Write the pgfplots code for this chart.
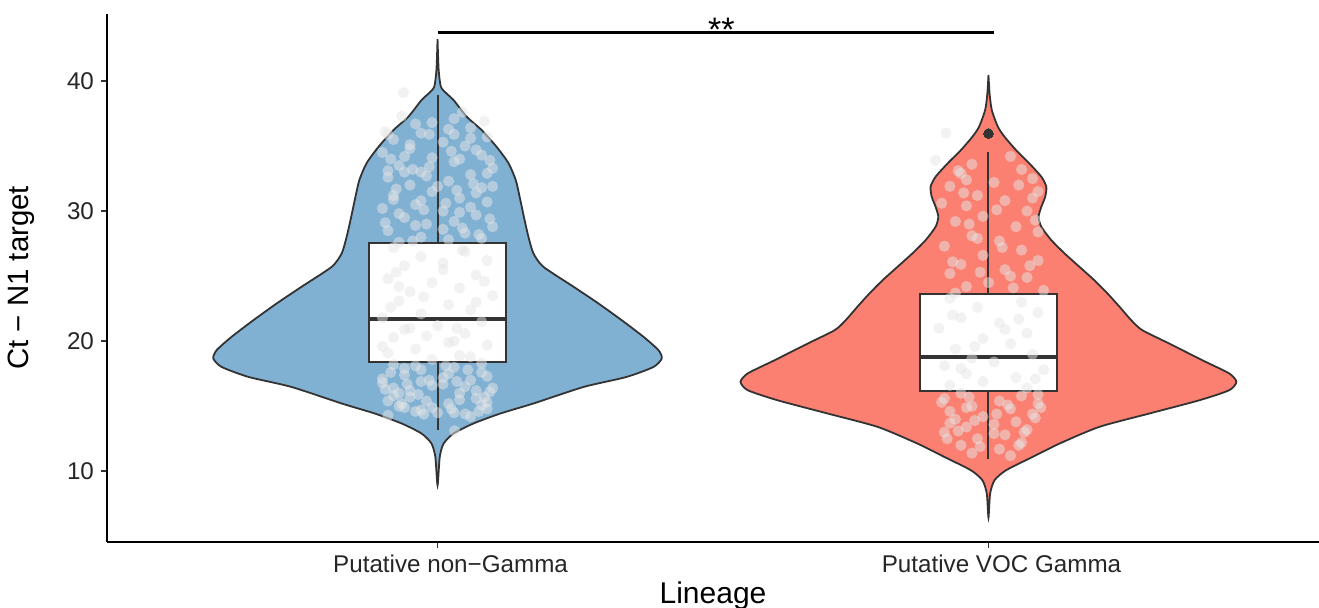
\documentclass[border=0pt]{standalone}
\usepackage{fontspec}
\setmainfont{Liberation Sans}
\usepackage{pgfplots}
\pgfplotsset{compat=1.18}
\definecolor{vblue}{HTML}{80B1D3}
\definecolor{vred}{HTML}{FB8072}
\definecolor{outl}{HTML}{333333}
\definecolor{jit}{HTML}{E6E6E6}
\begin{document}
\begin{tikzpicture}
\begin{axis}[
  name=ax,
  scale only axis,
  width=606pt, height=263.75pt,
  xmin=0.4, xmax=2.6, ymin=4.6, ymax=45.15,
  axis x line*=bottom, axis y line*=left,
  axis line style={line width=1pt, black},
  xtick={1,2}, xticklabels={Putative non−Gamma, Putative VOC Gamma},
  ytick={10,20,30,40},
  tick align=outside, major tick length=3pt,
  tick style={line width=0.8pt, black!80},
  /pgf/number format/assume math mode=true,
  ticklabel style={font=\fontsize{12.1}{14}\selectfont, text=black!85},
  xticklabel style={xshift=6.5pt},
  xlabel={Lineage}, ylabel={Ct − N1 target},
  every axis x label/.style={at={(axis description cs:0.5,0)}, anchor=base, yshift=-31pt, font=\fontsize{15}{17}\selectfont},
  every axis y label/.style={at={(axis description cs:0,0.5)}, anchor=center, xshift=-43pt, rotate=90, font=\fontsize{14.7}{17}\selectfont},
  clip=false,
  jitter/.style={only marks, mark=*, mark size=2.8pt, mark options={fill=jit, draw opacity=0, fill opacity=0.5}},
]
% violin 1
\addplot[fill=vblue, draw=outl, line width=0.9pt, smooth, tension=0.4] coordinates {
(1.000,43.21)(1.002,40.85)(1.006,39.56)(1.016,39.05)(1.029,38.54)(1.053,37.25)(1.080,36.23)(1.107,34.95)(1.129,33.67)(1.142,32.38)(1.149,31.10)(1.158,29.31)(1.165,28.02)(1.174,26.75)(1.192,25.72)(1.247,24.18)(1.292,22.90)(1.334,21.62)(1.374,20.33)(1.401,19.31)(1.407,18.67)(1.392,18.02)(1.343,17.25)(1.265,16.48)(1.174,15.21)(1.114,14.44)(1.065,13.67)(1.029,12.90)(1.011,12.13)(1.004,11.10)(1.000,8.92)
(0.996,11.10)(0.989,12.13)(0.971,12.90)(0.935,13.67)(0.886,14.44)(0.826,15.21)(0.735,16.48)(0.657,17.25)(0.608,18.02)(0.593,18.67)(0.599,19.31)(0.626,20.33)(0.666,21.62)(0.708,22.90)(0.753,24.18)(0.808,25.72)(0.826,26.75)(0.835,28.02)(0.842,29.31)(0.851,31.10)(0.858,32.38)(0.871,33.67)(0.893,34.95)(0.920,36.23)(0.947,37.25)(0.971,38.54)(0.984,39.05)(0.994,39.56)(0.998,40.85)(1.000,43.21)};
% violin 2
\addplot[fill=vred, draw=outl, line width=0.9pt, smooth, tension=0.4] coordinates {
(2.000,40.46)(2.002,39.05)(2.006,37.77)(2.017,36.49)(2.029,35.72)(2.050,34.69)(2.074,33.67)(2.096,32.64)(2.105,31.87)(2.103,31.10)(2.096,30.33)(2.091,29.56)(2.096,28.79)(2.114,27.77)(2.138,26.75)(2.165,25.72)(2.192,24.69)(2.216,23.67)(2.238,22.64)(2.259,21.62)(2.279,20.85)(2.328,19.82)(2.388,18.54)(2.437,17.52)(2.450,16.87)(2.437,16.23)(2.383,15.46)(2.292,14.44)(2.201,13.41)(2.129,12.13)(2.080,11.10)(2.032,10.08)(2.011,9.31)(2.003,8.28)(2.000,6.44)
(1.997,8.28)(1.989,9.31)(1.968,10.08)(1.920,11.10)(1.871,12.13)(1.799,13.41)(1.708,14.44)(1.617,15.46)(1.563,16.23)(1.550,16.87)(1.563,17.52)(1.612,18.54)(1.672,19.82)(1.721,20.85)(1.741,21.62)(1.762,22.64)(1.784,23.67)(1.808,24.69)(1.835,25.72)(1.862,26.75)(1.886,27.77)(1.904,28.79)(1.909,29.56)(1.904,30.33)(1.897,31.10)(1.895,31.87)(1.904,32.64)(1.926,33.67)(1.950,34.69)(1.971,35.72)(1.983,36.49)(1.994,37.77)(1.998,39.05)(2.000,40.46)};
% boxplot 1: whiskers, box, median
\addplot[draw=outl, line width=1pt] coordinates {(1,27.52)(1,38.92)};
\addplot[draw=outl, line width=1pt] coordinates {(1,18.41)(1,13.15)};
\addplot[draw=outl, fill=white, line width=1pt] coordinates {(0.875,18.41)(1.125,18.41)(1.125,27.52)(0.875,27.52)(0.875,18.41)(1.125,18.41)};
\addplot[draw=outl, line width=2pt] coordinates {(0.875,21.69)(1.125,21.69)};
% boxplot 2
\addplot[draw=outl, line width=1pt] coordinates {(2,23.59)(2,34.56)};
\addplot[draw=outl, line width=1pt] coordinates {(2,16.18)(2,10.97)};
\addplot[draw=outl, fill=white, line width=1pt] coordinates {(1.875,16.18)(2.125,16.18)(2.125,23.59)(1.875,23.59)(1.875,16.18)(2.125,16.18)};
\addplot[draw=outl, line width=2pt] coordinates {(1.875,18.79)(2.125,18.79)};
% outlier
\addplot[only marks, mark=*, mark size=2.4pt, mark options={fill=outl, draw=outl, line width=0pt}] coordinates {(2,35.97)};
% jittered points group 1
\addplot[jitter] coordinates {
(0.938,39.1)
(1.03,37.1)(0.96,36.7)(1.06,36.4)(0.97,36.0)(1.09,35.7)(0.92,35.5)(1.01,35.3)(1.05,35.0)(0.95,34.8)(0.90,34.5)(1.08,34.3)(0.99,34.1)(1.03,33.8)(0.93,33.5)(1.10,33.3)(0.97,33.0)(1.06,32.8)(0.91,32.6)(1.02,32.3)(0.95,32.0)(1.08,31.8)(0.99,31.5)(0.92,31.2)(1.04,31.0)(1.09,30.7)(0.96,30.5)(0.90,30.2)(1.01,30.0)(1.07,29.7)(0.94,29.5)(1.03,29.2)(0.98,29.0)(1.10,28.8)(0.91,28.5)(1.05,28.3)(0.97,28.0)(1.02,27.8)(0.93,27.6)(1.08,27.9)(0.99,36.8)(1.06,35.6)(0.94,33.0)(1.00,31.9)(1.09,32.9)(0.92,30.9)(1.04,29.9)(0.96,28.9)(1.07,34.7)(0.91,35.9)(1.02,36.3)
(0.95,35.1)(1.04,34.0)(0.91,33.1)(1.07,31.4)(0.97,30.8)(1.01,28.6)(0.93,29.8)(1.06,30.3)(0.98,32.7)(1.10,31.9)(0.94,34.2)(1.03,35.9)
(0.905,36.1)(1.085,36.9)(0.935,37.3)(1.045,37.6)(0.985,35.9)(1.025,34.6)(0.915,34.0)(1.095,33.9)(0.955,33.2)(1.065,32.1)(0.925,31.7)(1.035,31.6)(0.975,30.1)(1.095,29.4)(0.905,29.1)(1.045,28.7)(0.955,27.7)(1.075,28.2)(0.985,33.4)(1.015,30.6)
(0.92,27.2)(1.05,26.9)(0.97,26.5)(1.09,26.2)(0.94,25.8)(1.01,25.5)(1.07,25.1)(0.91,24.8)(0.99,24.5)(1.04,24.1)(0.95,23.8)(1.10,23.5)(0.93,23.1)(1.02,22.8)(1.06,22.4)(0.97,22.1)(0.90,21.8)(1.08,21.5)(1.00,21.2)(0.94,20.9)(1.05,20.6)(0.92,20.3)(1.03,20.0)(1.09,19.7)(0.96,19.4)(0.91,19.1)(1.06,18.8)(0.99,18.6)(1.02,19.9)(0.95,21.0)(1.07,23.0)(0.93,24.2)(1.01,26.0)(0.98,20.4)(1.04,18.9)(0.90,19.6)
(0.925,25.3)(1.045,27.0)(0.975,23.4)(1.085,24.6)(0.915,22.6)(1.035,21.0)
(0.92,18.2)(1.03,18.0)(0.97,17.8)(1.08,17.6)(0.94,17.4)(1.01,17.2)(1.06,17.0)(0.90,16.8)(0.99,16.6)(1.10,16.4)(0.95,16.2)(1.04,16.0)(0.92,15.8)(1.07,15.6)(0.98,15.4)(1.02,15.2)(0.93,15.0)(1.09,14.8)(0.96,14.6)(1.05,14.4)(0.91,14.3)(1.00,14.5)(1.08,15.1)(0.94,17.9)(1.02,17.5)(0.97,16.9)(1.05,16.5)(0.93,16.0)(1.09,15.3)(0.99,14.9)(1.03,14.5)(0.95,15.7)(1.07,16.2)(0.90,17.1)
(0.96,18.1)(1.09,17.3)(0.92,16.4)(1.04,15.5)(0.97,14.7)(1.06,14.2)(0.91,15.4)(1.01,16.7)(1.08,18.3)(0.94,14.9)
(0.915,17.6)(1.055,17.8)(0.985,17.0)(1.095,16.1)(0.935,15.2)(1.025,14.8)(0.965,15.9)(1.075,14.6)(0.905,16.3)(1.015,18.1)(0.945,16.7)(1.085,15.7)(0.975,14.4)(1.035,16.9)(1.031,13.1)};
% jittered points group 2
\addplot[jitter] coordinates {
(1.923,36.0)(1.904,33.9)
(2.04,34.2)(1.97,33.6)(2.06,33.2)(1.95,32.9)(2.08,32.5)(2.01,32.2)(1.93,31.9)(2.09,31.5)(1.98,31.2)(2.03,30.8)(1.96,30.4)(2.07,30.0)(1.99,29.6)(1.94,29.2)(2.05,28.8)(2.09,28.4)(1.97,28.1)(2.02,27.7)(1.92,27.3)(2.06,27.0)(1.99,26.6)(2.09,26.2)(1.95,25.9)(2.03,25.5)(1.93,25.2)(2.07,24.9)(2.00,24.5)(1.96,24.2)(2.10,23.9)(1.94,23.7)(2.04,25.0)(1.98,27.9)(2.08,31.0)(1.96,32.4)
(1.945,33.1)(2.055,32.0)(1.915,30.6)(2.085,29.3)(1.965,29.0)(2.025,27.2)(1.935,26.1)(2.075,25.8)(1.985,25.3)(2.045,24.1)(2.015,30.1)(1.955,31.4)
(1.93,23.3)(2.06,23.0)(1.98,22.6)(2.09,22.2)(1.95,21.8)(2.02,21.4)(1.91,21.0)(2.07,20.6)(1.99,20.2)(2.04,19.8)(1.94,19.4)(2.08,19.0)(1.97,18.7)(2.01,18.4)(1.92,18.1)(2.10,17.8)(1.96,17.5)(2.05,17.2)(1.99,16.9)(1.93,16.6)(2.07,16.4)(2.03,20.9)(1.95,17.9)
(1.935,22.0)(2.055,21.7)(1.975,19.6)(2.085,17.1)
(1.95,16.0)(2.06,15.8)(1.92,15.6)(2.02,15.4)(2.09,15.2)(1.97,15.0)(2.04,14.8)(1.93,14.6)(2.08,14.4)(1.99,14.2)(1.94,14.0)(2.05,13.8)(2.01,13.6)(1.96,13.4)(2.07,13.2)(1.92,13.0)(2.03,12.8)(1.98,12.5)(2.06,12.2)(1.95,12.0)(2.02,11.7)(1.97,11.4)(2.04,11.2)(2.09,15.9)(1.96,14.9)(2.01,12.9)(1.93,13.7)
(1.915,15.3)(2.035,15.1)(1.965,15.7)(2.085,14.1)(1.945,13.1)(2.015,14.4)(2.065,13.0)(1.985,11.9)(1.925,12.5)(2.055,12.0)(2.095,14.9)(1.975,13.9)};
% significance bar
\addplot[black, line width=1.4pt] coordinates {(1,43.75) (2.01,43.75)};
\node[anchor=base, font=\fontsize{17}{19}\selectfont, inner sep=0pt, yshift=-4.5pt] at (axis cs:1.515,43.75) {**};
\end{axis}
\pgfresetboundingbox
\path[use as bounding box] ([shift={(-53.5pt,-32.75pt)}]ax.south west) rectangle ([shift={(0pt,7pt)}]ax.north east);
\end{tikzpicture}
\end{document}
